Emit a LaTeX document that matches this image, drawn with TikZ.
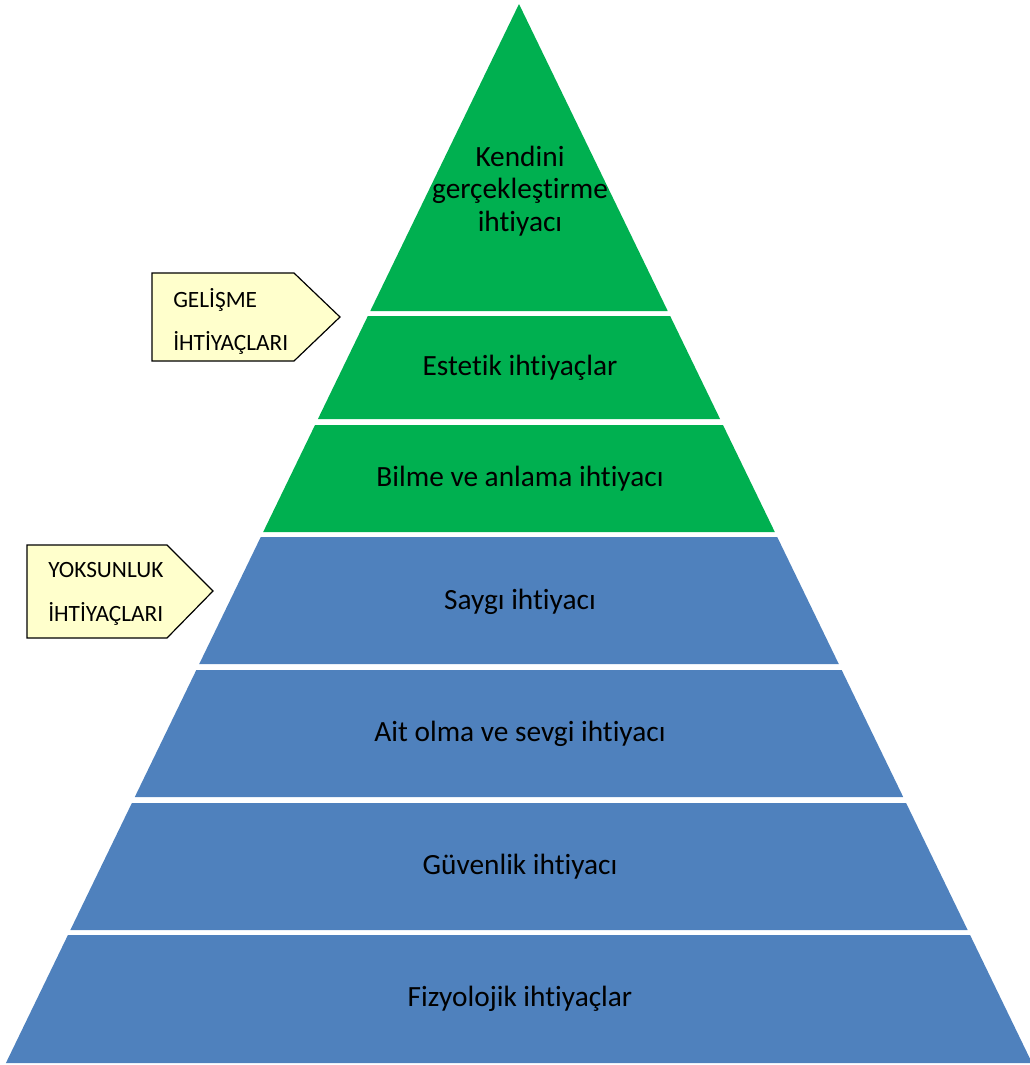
\documentclass[tikz,border=0pt]{standalone}
\usepackage{fontspec}
\setmainfont{Carlito}[Ligatures=NoCommon]
\definecolor{pgreen}{HTML}{00B050}
\definecolor{pblue}{HTML}{4F81BD}
\definecolor{callfill}{HTML}{FFFFCC}
\newcommand\pyrlayer[3]{%
  \fill[#3] ({519-0.4845*(#1-4)},#1) -- ({519+0.4845*(#1-4)},#1) --
            ({519+0.4845*(#2-4)},#2) -- ({519-0.4845*(#2-4)},#2) -- cycle;}
\tikzset{
  lbl/.style={font=\fontsize{22}{24.2}\selectfont, text=black, inner sep=0pt, align=center},
  calltxt/.style={font=\fontsize{17.5}{20}\selectfont, text=black, inner sep=0pt, anchor=base west},
  callout/.style={fill=callfill, draw=black, line width=0.9pt, line join=miter}
}
\begin{document}
\begin{tikzpicture}[x=0.75pt,y=-0.75pt]
\useasboundingbox (0,0) rectangle (1030,1065);
\fill[pgreen] (519,4) -- ({519+0.4845*(311-4)},311) -- ({519-0.4845*(311-4)},311) -- cycle;
\pyrlayer{316}{419}{pgreen}
\pyrlayer{425}{532}{pgreen}
\pyrlayer{537}{664}{pblue}
\pyrlayer{670}{797}{pblue}
\pyrlayer{803}{930}{pblue}
\pyrlayer{935}{1063}{pblue}

\node[lbl, text width=220pt] (t1) at (520,191) {Kendini\\gerçekleştirme\\ihtiyacı};
\node[lbl] (t2) at (520,368) {Estetik ihtiyaçlar};
\node[lbl] (t3) at (520,479) {Bilme ve anlama ihtiyacı};
\node[lbl] (t4) at (520,602) {Saygı ihtiyacı};
\node[lbl] (t5) at (520,734) {Ait olma ve sevgi ihtiyacı};
\node[lbl] (t6) at (520,867) {Güvenlik ihtiyacı};
\node[lbl] (t7) at (520,999) {Fizyolojik ihtiyaçlar};

\draw[callout] (152,273) -- (294,273) -- (340,317) -- (294,361) -- (152,361) -- cycle;
\node[calltxt] (c1a) at (173,307) {GELİŞME};
\node[calltxt] (c1b) at (173,350) {İHTİYAÇLARI};

\draw[callout] (27,545) -- (167,545) -- (213,591) -- (167,638) -- (27,638) -- cycle;
\node[calltxt] (c2a) at (48,577) {YOKSUNLUK};
\node[calltxt] (c2b) at (48,621) {İHTİYAÇLARI};
\end{tikzpicture}
\end{document}
